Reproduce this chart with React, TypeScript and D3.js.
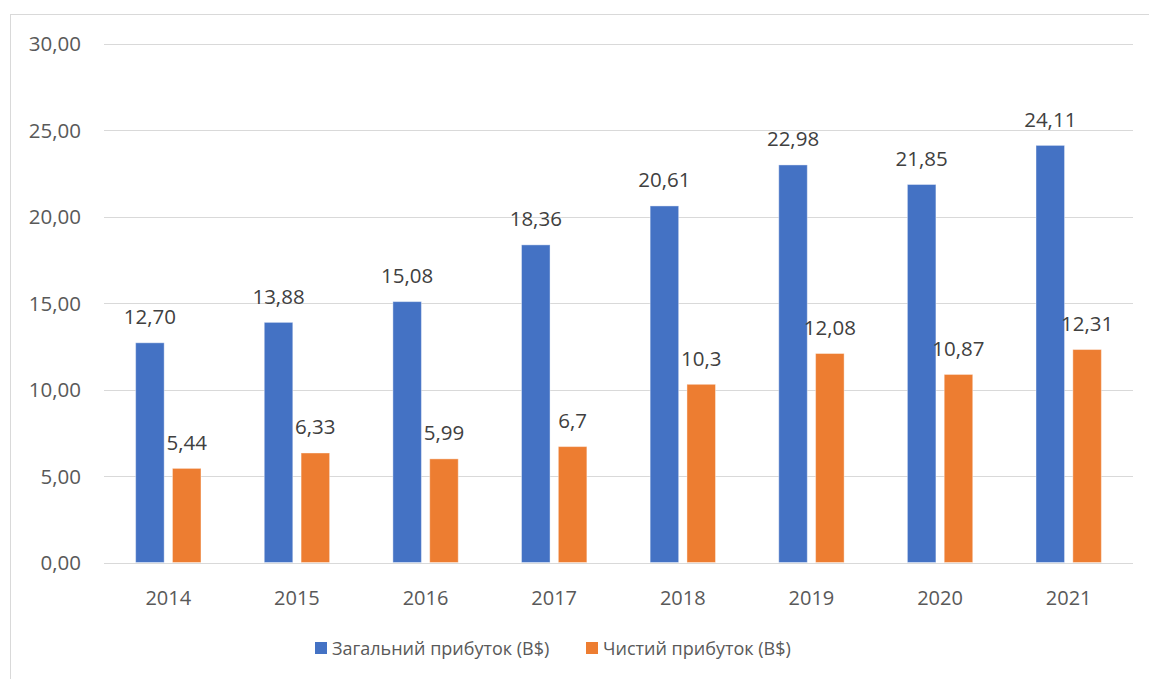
import React, { useEffect, useRef } from "react";
import * as d3 from "d3";

// data
const years = ["2014", "2015", "2016", "2017", "2018", "2019", "2020", "2021"];
const totalProfit = [12.7, 13.88, 15.08, 18.36, 20.61, 22.98, 21.85, 24.11];
const netProfit = [5.44, 6.33, 5.99, 6.7, 10.3, 12.08, 10.87, 12.31];
const seriesKeys = ["total", "net"];
const seriesNames = ["Загальний прибуток (B$)", "Чистий прибуток (B$)"];
const seriesColors = ["#4472C4", "#ED7D31"];
const yTicks = [0, 5, 10, 15, 20, 25, 30];

const W = 1149;
const H = 679;
const FONT = "'Open Sans', sans-serif";

const App = () => {
  const svgRef = useRef<SVGSVGElement>(null);

  useEffect(() => {
    const svg = d3.select(svgRef.current);
    svg.selectAll("*").remove();

    const plot = { left: 104, right: 1133, top: 43.5, bottom: 562.5 };

    const x = d3.scaleBand().domain(years).range([plot.left, plot.right]).padding(0);
    const band = x.bandwidth();
    const half = band * 0.254;
    const x1 = d3
      .scaleBand()
      .domain(seriesKeys)
      .range([band / 2 - half, band / 2 + half])
      .paddingInner(0.2255)
      .paddingOuter(0);
    const y = d3.scaleLinear().domain([0, 30]).range([plot.bottom, plot.top]);

    // outer frame
    svg
      .append("rect")
      .attr("x", 10.5)
      .attr("y", 14.5)
      .attr("width", W + 20)
      .attr("height", H + 20)
      .attr("fill", "white")
      .attr("stroke", "#D9D9D9")
      .attr("stroke-width", 1);

    // gridlines
    svg
      .append("g")
      .selectAll("line")
      .data(yTicks)
      .join("line")
      .attr("x1", plot.left)
      .attr("x2", plot.right)
      .attr("y1", (d) => Math.round(y(d)) + 0.5)
      .attr("y2", (d) => Math.round(y(d)) + 0.5)
      .attr("stroke", "#D9D9D9")
      .attr("stroke-width", 1);

    // y labels
    svg
      .append("g")
      .selectAll("text")
      .data(yTicks)
      .join("text")
      .attr("x", 81)
      .attr("y", (d) => y(d) + 7.5)
      .attr("text-anchor", "end")
      .attr("font-family", FONT)
      .attr("font-size", 20.5)
      .attr("fill", "#595959")
      .text((d) => d.toFixed(2).replace(".", ","));

    // x labels
    svg
      .append("g")
      .selectAll("text")
      .data(years)
      .join("text")
      .attr("x", (d) => (x(d) as number) + band / 2)
      .attr("y", 605)
      .attr("text-anchor", "middle")
      .attr("font-family", FONT)
      .attr("font-size", 20)
      .attr("fill", "#595959")
      .text((d) => d);

    const rows = years.map((yr, i) => ({ year: yr, total: totalProfit[i], net: netProfit[i] }));
    const fmt = [(v: number) => v.toFixed(2).replace(".", ","), (v: number) => String(v).replace(".", ",")];

    seriesKeys.forEach((key, si) => {
      const g = svg.append("g");
      g.selectAll("rect")
        .data(rows)
        .join("rect")
        .attr("x", (d) => (x(d.year) as number) + (x1(key) as number))
        .attr("width", x1.bandwidth())
        .attr("y", (d) => y((d as any)[key]))
        .attr("height", (d) => y(0) - y((d as any)[key]))
        .attr("fill", seriesColors[si])
        .attr("stroke", "white")
        .attr("stroke-opacity", 0.4)
        .attr("stroke-width", 1);

      g.selectAll("text")
        .data(rows)
        .join("text")
        .attr("x", (d) => (x(d.year) as number) + (x1(key) as number) + x1.bandwidth() / 2)
        .attr("y", (d) => y((d as any)[key]) - 18.5)
        .attr("text-anchor", "middle")
        .attr("font-family", FONT)
        .attr("font-size", 20.5)
        .attr("fill", "#404040")
        .text((d) => fmt[si]((d as any)[key]));
    });

    // legend
    const legendX = [315, 586];
    const lg = svg.append("g");
    seriesNames.forEach((name, i) => {
      lg.append("rect")
        .attr("x", legendX[i])
        .attr("y", 642)
        .attr("width", 12)
        .attr("height", 12)
        .attr("fill", seriesColors[i]);
      lg.append("text")
        .attr("x", legendX[i] + 17)
        .attr("y", 655)
        .attr("font-family", FONT)
        .attr("font-size", 18)
        .attr("fill", "#595959")
        .text(name);
    });
  }, []);

  return (
    <div style={{ position: "absolute", left: 0, top: 0, width: W, height: H, overflow: "hidden", background: "white" }}>
      <svg ref={svgRef} width={W} height={H} style={{ display: "block" }} />
    </div>
  );
};

export default App;
